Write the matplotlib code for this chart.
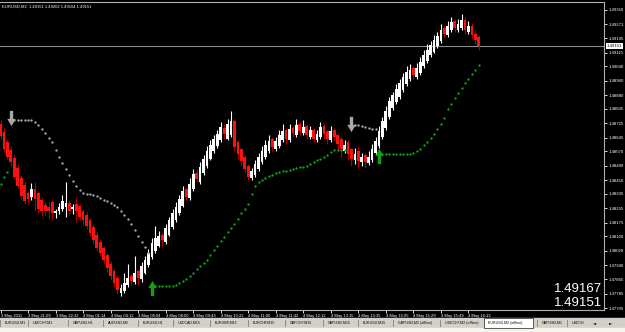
import matplotlib.pyplot as plt
from matplotlib.path import Path
from matplotlib.patches import Rectangle

# EURUSD M2 bars
opens = [1.48720, 1.48677, 1.48621, 1.48577, 1.48533, 1.48478, 1.48423, 1.48384, 1.48340, 1.48318,
         1.48364, 1.48340, 1.48301, 1.48274, 1.48265, 1.48290, 1.48227, 1.48238, 1.48254, 1.48260,
         1.48282, 1.48250, 1.48280, 1.48270, 1.48240, 1.48220, 1.48190, 1.48150, 1.48110, 1.48070,
         1.48035, 1.47995, 1.47950, 1.47910, 1.47870, 1.47790, 1.47800, 1.47830, 1.47880, 1.47850,
         1.47910, 1.47865, 1.47900, 1.47940, 1.47985, 1.48020, 1.48050, 1.48110, 1.48070, 1.48110,
         1.48150, 1.48190, 1.48230, 1.48270, 1.48360, 1.48310, 1.48360, 1.48450, 1.48400, 1.48450,
         1.48490, 1.48530, 1.48570, 1.48600, 1.48630, 1.48700, 1.48640, 1.48660, 1.48736, 1.48620,
         1.48580, 1.48540, 1.48490, 1.48420, 1.48440, 1.48470, 1.48510, 1.48540, 1.48570, 1.48640,
         1.48580, 1.48600, 1.48630, 1.48690, 1.48630, 1.48700, 1.48660, 1.48720, 1.48670, 1.48710,
         1.48650, 1.48690, 1.48630, 1.48650, 1.48710, 1.48680, 1.48630, 1.48690, 1.48660, 1.48640,
         1.48570, 1.48620, 1.48580, 1.48520, 1.48570, 1.48510, 1.48550, 1.48505, 1.48520, 1.48560,
         1.48600, 1.48650, 1.48700, 1.48760, 1.48810, 1.48840, 1.48870, 1.48910, 1.48940, 1.48970,
         1.49030, 1.48980, 1.49000, 1.49040, 1.49070, 1.49100, 1.49120, 1.49150, 1.49180, 1.49250,
         1.49210, 1.49240, 1.49290, 1.49240, 1.49250, 1.49295, 1.49230, 1.49263, 1.49220, 1.49200]
highs = [1.48740, 1.48700, 1.48640, 1.48600, 1.48550, 1.48500, 1.48440, 1.48400, 1.48350, 1.48395,
         1.48400, 1.48350, 1.48320, 1.48290, 1.48290, 1.48300, 1.48250, 1.48285, 1.48330, 1.48400,
         1.48300, 1.48280, 1.48320, 1.48280, 1.48250, 1.48235, 1.48200, 1.48165, 1.48125, 1.48085,
         1.48050, 1.48010, 1.47965, 1.47925, 1.47885, 1.47840, 1.47900, 1.47950, 1.47890, 1.47990,
         1.47920, 1.47960, 1.47990, 1.48030, 1.48090, 1.48160, 1.48130, 1.48120, 1.48170, 1.48210,
         1.48250, 1.48290, 1.48330, 1.48380, 1.48370, 1.48420, 1.48470, 1.48470, 1.48510, 1.48550,
         1.48600, 1.48630, 1.48660, 1.48690, 1.48730, 1.48720, 1.48750, 1.48790, 1.48750, 1.48630,
         1.48590, 1.48550, 1.48500, 1.48480, 1.48520, 1.48560, 1.48600, 1.48630, 1.48660, 1.48650,
         1.48650, 1.48690, 1.48720, 1.48700, 1.48720, 1.48710, 1.48750, 1.48730, 1.48740, 1.48720,
         1.48710, 1.48700, 1.48690, 1.48730, 1.48720, 1.48690, 1.48710, 1.48700, 1.48670, 1.48650,
         1.48630, 1.48630, 1.48590, 1.48590, 1.48600, 1.48560, 1.48560, 1.48570, 1.48610, 1.48650,
         1.48710, 1.48760, 1.48820, 1.48870, 1.48900, 1.48940, 1.48970, 1.49000, 1.49040, 1.49050,
         1.49040, 1.49060, 1.49090, 1.49130, 1.49160, 1.49180, 1.49210, 1.49230, 1.49270, 1.49260,
         1.49290, 1.49310, 1.49300, 1.49300, 1.49330, 1.49310, 1.49290, 1.49280, 1.49240, 1.49210]
lows = [1.48640, 1.48565, 1.48525, 1.48490, 1.48415, 1.48365, 1.48305, 1.48280, 1.48280, 1.48300,
        1.48240, 1.48230, 1.48215, 1.48220, 1.48200, 1.48190, 1.48200, 1.48225, 1.48240, 1.48210,
        1.48220, 1.48225, 1.48180, 1.48190, 1.48165, 1.48140, 1.48100, 1.48060, 1.48020, 1.47990,
        1.47950, 1.47905, 1.47860, 1.47820, 1.47780, 1.47770, 1.47790, 1.47820, 1.47830, 1.47840,
        1.47830, 1.47850, 1.47890, 1.47930, 1.47975, 1.48010, 1.48040, 1.48040, 1.48060, 1.48100,
        1.48140, 1.48180, 1.48220, 1.48260, 1.48300, 1.48300, 1.48350, 1.48400, 1.48390, 1.48440,
        1.48480, 1.48520, 1.48560, 1.48590, 1.48620, 1.48640, 1.48630, 1.48650, 1.48570, 1.48530,
        1.48490, 1.48450, 1.48410, 1.48410, 1.48430, 1.48460, 1.48500, 1.48530, 1.48560, 1.48570,
        1.48570, 1.48590, 1.48620, 1.48610, 1.48620, 1.48650, 1.48650, 1.48660, 1.48660, 1.48640,
        1.48640, 1.48620, 1.48620, 1.48640, 1.48640, 1.48610, 1.48620, 1.48630, 1.48580, 1.48540,
        1.48560, 1.48520, 1.48490, 1.48500, 1.48480, 1.48490, 1.48480, 1.48495, 1.48510, 1.48550,
        1.48590, 1.48640, 1.48690, 1.48750, 1.48800, 1.48830, 1.48860, 1.48900, 1.48930, 1.48960,
        1.48970, 1.48970, 1.48990, 1.49030, 1.49060, 1.49090, 1.49110, 1.49140, 1.49170, 1.49200,
        1.49200, 1.49230, 1.49230, 1.49230, 1.49240, 1.49220, 1.49220, 1.49190, 1.49160, 1.49130]
closes = [1.48654, 1.48583, 1.48539, 1.48512, 1.48430, 1.48380, 1.48325, 1.48293, 1.48309, 1.48364,
          1.48309, 1.48254, 1.48238, 1.48243, 1.48238, 1.48227, 1.48238, 1.48265, 1.48298, 1.48282,
          1.48238, 1.48265, 1.48243, 1.48210, 1.48188, 1.48156, 1.48117, 1.48079, 1.48035, 1.48008,
          1.47969, 1.47925, 1.47882, 1.47843, 1.47805, 1.47816, 1.47843, 1.47871, 1.47854, 1.47898,
          1.47871, 1.47936, 1.47969, 1.48008, 1.48062, 1.48090, 1.48101, 1.48079, 1.48145, 1.48188,
          1.48227, 1.48265, 1.48309, 1.48353, 1.48320, 1.48391, 1.48446, 1.48419, 1.48484, 1.48528,
          1.48572, 1.48605, 1.48638, 1.48665, 1.48704, 1.48665, 1.48720, 1.48736, 1.48594, 1.48556,
          1.48517, 1.48473, 1.48430, 1.48462, 1.48501, 1.48539, 1.48572, 1.48605, 1.48627, 1.48594,
          1.48627, 1.48660, 1.48682, 1.48638, 1.48693, 1.48671, 1.48715, 1.48682, 1.48704, 1.48660,
          1.48687, 1.48638, 1.48665, 1.48704, 1.48665, 1.48638, 1.48682, 1.48649, 1.48610, 1.48583,
          1.48605, 1.48556, 1.48528, 1.48556, 1.48517, 1.48539, 1.48512, 1.48539, 1.48583, 1.48627,
          1.48682, 1.48736, 1.48791, 1.48846, 1.48879, 1.48912, 1.48945, 1.48978, 1.49010, 1.49021,
          1.48989, 1.49032, 1.49065, 1.49104, 1.49131, 1.49158, 1.49186, 1.49208, 1.49241, 1.49219,
          1.49263, 1.49284, 1.49252, 1.49273, 1.49295, 1.49241, 1.49263, 1.49213, 1.49186, 1.49151]

# trailing stop indicator: green = up trend, grey = down trend (start bar, values)
up1_start = 0
up1 = [1.48391, 1.48430, 1.48457]
dn1_start = 4
dn1 = [1.48742, 1.48742, 1.48742, 1.48742, 1.48742, 1.48742, 1.48731, 1.48715, 1.48693, 1.48671,
       1.48643, 1.48621, 1.48578, 1.48539, 1.48506, 1.48473, 1.48441, 1.48408, 1.48380, 1.48358,
       1.48342, 1.48336, 1.48336, 1.48331, 1.48325, 1.48314, 1.48303, 1.48293, 1.48287, 1.48276,
       1.48260, 1.48238, 1.48221, 1.48194, 1.48167, 1.48134, 1.48101, 1.48068, 1.48040, 1.48008]
up2_start = 45
up2 = [1.47827, 1.47827, 1.47827, 1.47827, 1.47827, 1.47827,
       1.47832, 1.47843, 1.47854, 1.47865, 1.47882, 1.47898, 1.47920, 1.47936, 1.47953, 1.47969,
       1.47997, 1.48024, 1.48046, 1.48073, 1.48095, 1.48122, 1.48145, 1.48167, 1.48199, 1.48227,
       1.48254, 1.48281, 1.48336, 1.48380, 1.48402, 1.48413, 1.48424, 1.48435, 1.48441, 1.48452,
       1.48457, 1.48463, 1.48463, 1.48468, 1.48473, 1.48479, 1.48484, 1.48484, 1.48490, 1.48501,
       1.48512, 1.48523, 1.48528, 1.48539, 1.48550, 1.48567, 1.48578, 1.48578, 1.48578, 1.48578]
dn2_start = 103
dn2 = [1.48715, 1.48715, 1.48709, 1.48704, 1.48698, 1.48693, 1.48693]
up3_start = 111
up3 = [1.48556, 1.48556, 1.48556, 1.48556, 1.48556, 1.48556, 1.48556, 1.48556, 1.48556,
       1.48561, 1.48572, 1.48583, 1.48605, 1.48621, 1.48643, 1.48665, 1.48693, 1.48720, 1.48753,
       1.48802, 1.48830, 1.48862, 1.48890, 1.48917, 1.48945, 1.48967, 1.48994, 1.49021, 1.49049]

up_arrow_bars = [44, 110]
up_arrow_prices = [1.47816, 1.48545]
dn_arrow_bars = [3, 102]
dn_arrow_prices = [1.48753, 1.48720]

time_labels = ["3 May 2011", "3 May 21:09", "3 May 22:32", "4 May 01:14", "4 May 04:12",
               "4 May 06:04", "4 May 08:00", "4 May 09:43", "4 May 10:22", "4 May 11:00",
               "4 May 11:42", "4 May 12:12", "4 May 13:15", "4 May 13:35", "4 May 15:05",
               "4 May 15:29", "4 May 15:49", "4 May 16:13"]
price_ticks = [1.49350, 1.49271, 1.49195, 1.49115, 1.49040, 1.48960, 1.48880, 1.48805,
               1.48725, 1.48645, 1.48570, 1.48490, 1.48410, 1.48335, 1.48255, 1.48175,
               1.48100, 1.48020, 1.47940, 1.47865, 1.47785, 1.47705]
bid = 1.49151
ask = 1.49167
title = "EURUSD,M2  1.49151 1.49202 1.49104 1.49151"
tabs = ["EURUSD,M1", "USDCHF,M1", "GBPUSD,H1", "AUDUSD,M5", "EURUSD,H1", "USDCAD,M15",
        "EURGBP,M15", "EURCHF,M15", "GBPCHF,M15", "GBPUSD,M15", "EURUSD,M15",
        "GBPUSD,M2 (offline)", "USDCHF,M2 (offline)", "EURUSD,M2 (offline)", "GBPUSD,M1", "USDCH"]
tab_x = [5, 33, 73, 108, 143, 178, 215, 253, 290, 328, 363, 398, 445, 488, 542, 572]
active_tab = "EURUSD,M2 (offline)"

small = "Liberation Sans"
W, H = 625, 332
fig = plt.figure(figsize=(W / 100, H / 100), dpi=100, facecolor="black")

# window chrome in pixel coordinates
bg = fig.add_axes([0, 0, 1, 1], zorder=-1)
bg.set_xlim(0, W)
bg.set_ylim(H, 0)
bg.axis("off")
bg.add_patch(Rectangle((0, 318), W, 10, color="#d4d0c8"))
bg.add_patch(Rectangle((0, 328), W, 4, color="#f4f3ee"))
for name, tx in zip(tabs, tab_x):
    if name == active_tab:
        bg.add_patch(Rectangle((tx - 4, 318), 49, 10, facecolor="white", edgecolor="#404040", lw=0.6))
    else:
        bg.plot([tx - 5, tx - 5], [320, 326], color="#808080", lw=0.6)
    bg.text(tx, 323, name, fontsize=2.6, color="black", va="center", ha="left", family=small)
bg.text(595, 323, "\u25c4", fontsize=3, color="black", va="center", ha="center")
bg.text(611, 323, "\u25ba", fontsize=3, color="black", va="center", ha="center")

ax = fig.add_axes([0, 1 - 310 / H, 604 / W, 308 / H])
ax.set_facecolor("black")

# candles
for i, (o, h, l, c) in enumerate(zip(opens, highs, lows, closes)):
    bull = c >= o
    wick = "white" if bull else "#b00000"
    body = "white" if bull else "#ff1010"
    ax.vlines(i, l, h, color=wick, lw=0.8, zorder=2)
    ax.bar(i, max(abs(c - o), 0.00002), bottom=min(o, c), width=0.8,
           color=body, linewidth=0, zorder=3)

# indicator dots
for start, vals, col in [(up1_start, up1, "#11a011"), (up2_start, up2, "#11a011"),
                         (up3_start, up3, "#11a011"), (dn1_start, dn1, "#a8a8a8"),
                         (dn2_start, dn2, "#a8a8a8")]:
    ax.plot(range(start, start + len(vals)), vals, ls="none", marker="o",
            ms=1.7, mew=0, color=col, zorder=4)

arrow_up = Path([(-0.22, -1), (0.22, -1), (0.22, 0.05), (0.55, 0.05), (0, 1),
                 (-0.55, 0.05), (-0.22, 0.05), (-0.22, -1)], closed=True)
arrow_dn = Path([(x, -y) for x, y in arrow_up.vertices], closed=True)
ax.plot(up_arrow_bars, up_arrow_prices, ls="none", marker=arrow_up, ms=11,
        color="#11a011", mew=0, zorder=5)
ax.plot(dn_arrow_bars, dn_arrow_prices, ls="none", marker=arrow_dn, ms=11,
        color="#a8a8a8", mew=0, zorder=5)

ax.axhline(bid, color="#8c8c8c", lw=0.8, zorder=1)

ax.set_xlim(-0.15, 175.4)
ax.set_ylim(1.47694, 1.49394)

ax.set_xticks(range(0, 8 * len(time_labels), 8))
ax.set_xticklabels(time_labels, ha="left", family=small)
ax.yaxis.tick_right()
ax.set_yticks(price_ticks)
ax.set_yticklabels([f"{p:.5f}" for p in price_ticks], family=small)
ax.tick_params(axis="x", colors="white", labelsize=3.0, length=2, width=0.6, pad=1.2)
ax.tick_params(axis="y", colors="white", labelsize=3.1, length=2, width=0.6, pad=1.5)
for s in ax.spines.values():
    s.set_color("#b0b0b0")
    s.set_linewidth(0.8)
ax.spines["left"].set_visible(False)

ax.text(1.0045, bid, f"{bid:.5f}", transform=ax.get_yaxis_transform(), fontsize=3.1,
        color="black", va="center", ha="left", family=small,
        bbox=dict(boxstyle="square,pad=0.15", facecolor="white", edgecolor="none"))
ax.text(0.004, 0.992, title, transform=ax.transAxes, fontsize=3.0, color="white",
        va="top", ha="left", family=small)

fig.text(602 / W, 1 - 289.5 / H, f"{ask:.5f}", fontsize=9.5, color="white",
         ha="right", va="center", family="Liberation Sans")
fig.text(602 / W, 1 - 302.5 / H, f"{bid:.5f}", fontsize=9.5, color="white",
         ha="right", va="center", family="Liberation Sans")

fig.savefig("out.png", dpi=100, facecolor="black")
